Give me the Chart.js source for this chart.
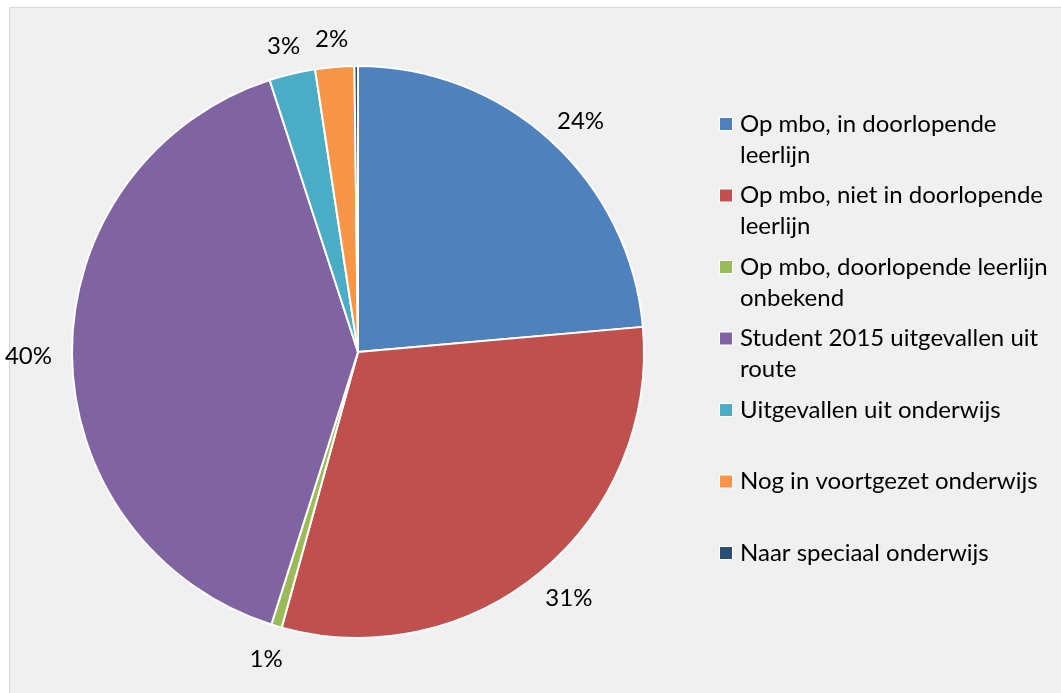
<!DOCTYPE html>
<html>
<head>
<meta charset="utf-8">
<script src="https://cdn.jsdelivr.net/npm/chart.js@4.4.1/dist/chart.umd.min.js"></script>
<style>
  html, body { margin: 0; padding: 0; background: #fff; }
  #wrap { position: absolute; left: 0; top: 0; width: 1061px; height: 693px; }
</style>
</head>
<body>
<div id="wrap"><canvas id="pieChart" width="1061" height="693"></canvas></div>
<script>
// legend labels, already wrapped the way the original shows them
var categories = [
  ['Op mbo, in doorlopende', 'leerlijn'],
  ['Op mbo, niet in doorlopende', 'leerlijn'],
  ['Op mbo, doorlopende leerlijn', 'onbekend'],
  ['Student 2015 uitgevallen uit', 'route'],
  ['Uitgevallen uit onderwijs'],
  ['Nog in voortgezet onderwijs'],
  ['Naar speciaal onderwijs']
];
var shares = [23.6, 30.7, 0.6, 40.1, 2.6, 2.2, 0.2];
var colors = ['#4f81bd', '#c0504d', '#9bbb59', '#8064a2', '#4bacc6', '#f79646', '#2c4d75'];

var FONT = '24px Lato, "Open Sans", sans-serif';

var background = {
  id: 'background',
  beforeDraw: function (chart) {
    var c = chart.ctx;
    c.save();
    c.fillStyle = '#f0f0f0';
    c.fillRect(9, 7, chart.width - 9, chart.height - 7);
    c.strokeStyle = '#d9d9d9';
    c.lineWidth = 1;
    c.beginPath();
    c.moveTo(9.5, chart.height);
    c.lineTo(9.5, 7.5);
    c.lineTo(chart.width, 7.5);
    c.stroke();
    c.restore();
  }
};

var pctLabels = {
  id: 'pctLabels',
  afterDatasetsDraw: function (chart) {
    var c = chart.ctx;
    var data = chart.data.datasets[0].data;
    var total = data.reduce(function (a, b) { return a + b; }, 0);
    c.save();
    c.font = FONT;
    c.fillStyle = '#000';
    c.textAlign = 'center';
    c.textBaseline = 'middle';
    chart.getDatasetMeta(0).data.forEach(function (arc, i) {
      var pct = Math.round(data[i] / total * 100);
      if (pct === 0) return;
      var txt = pct + '%';
      var mid = (arc.startAngle + arc.endAngle) / 2;
      var dx = Math.cos(mid), dy = Math.sin(mid);
      var r = arc.outerRadius + 20;
      var w = c.measureText(txt).width, h = 22;
      var x = arc.x + dx * r + dx * w / 2;
      var y = arc.y + dy * r + dy * h / 2 + 3;
      c.fillText(txt, x, y);
    });
    c.restore();
  }
};

var sideLegend = {
  id: 'sideLegend',
  afterDraw: function (chart) {
    var c = chart.ctx;
    var ds = chart.data.datasets[0];
    c.save();
    c.font = FONT;
    c.textBaseline = 'middle';
    chart.data.labels.forEach(function (lines, i) {
      var y = 124 + i * 71.5;
      c.fillStyle = '#fff';
      c.fillRect(719, y - 7, 14, 14);
      c.fillStyle = ds.backgroundColor[i];
      c.fillRect(720, y - 6, 12, 12);
      c.fillStyle = '#000';
      lines.forEach(function (line, k) {
        c.fillText(line, 740, y + k * 31);
      });
    });
    c.restore();
  }
};

new Chart(document.getElementById('pieChart'), {
  type: 'pie',
  data: {
    labels: categories,
    datasets: [{
      data: shares,
      backgroundColor: colors,
      borderColor: '#ffffff',
      borderWidth: 2
    }]
  },
  options: {
    responsive: false,
    animation: false,
    layout: { padding: { left: 71, right: 416, top: 65, bottom: 54 } },
    plugins: {
      legend: { display: false },
      tooltip: { enabled: false }
    }
  },
  plugins: [background, pctLabels, sideLegend]
});
</script>
</body>
</html>
